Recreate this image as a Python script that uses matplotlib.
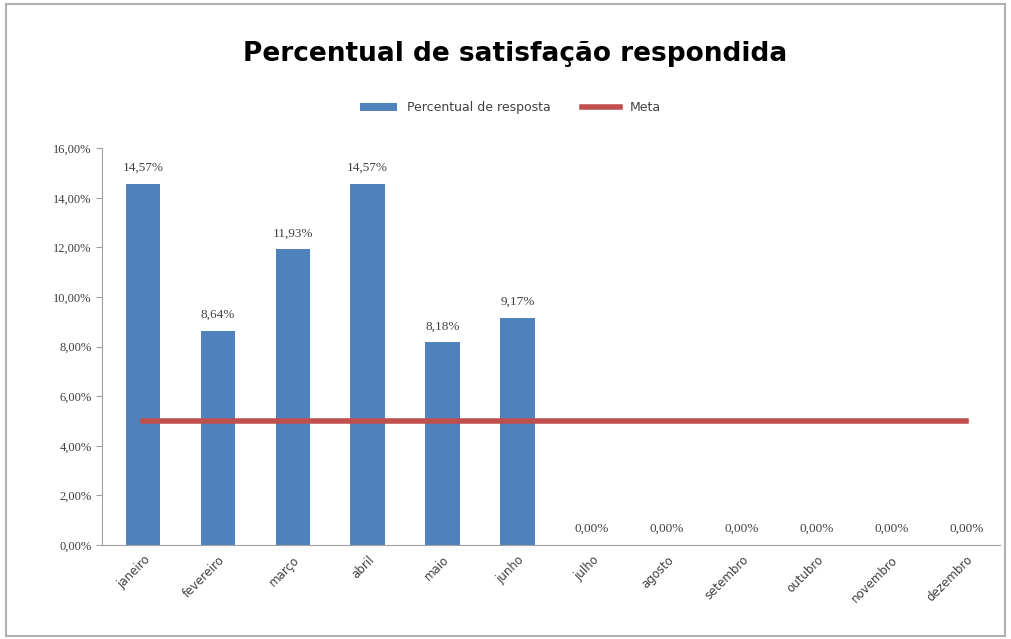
import numpy as np
import matplotlib.pyplot as plt
from matplotlib.patches import Rectangle

# data
meses = ['janeiro', 'fevereiro', 'março', 'abril', 'maio', 'junho',
         'julho', 'agosto', 'setembro', 'outubro', 'novembro', 'dezembro']
percentual = [14.57, 8.64, 11.93, 14.57, 8.18, 9.17, 0, 0, 0, 0, 0, 0]
meta = [5.0] * 12

def pct(v):
    return f'{v:.2f}%'.replace('.', ',')

fig = plt.figure(figsize=(10.11, 6.39), dpi=100)
ax = fig.add_axes([0.101, 0.147, 0.888, 0.621])

x = np.arange(len(meses))
bars = ax.bar(x, [v / 100 for v in percentual], width=0.46, color='#4F81BD',
              label='Percentual de resposta', zorder=2)
line, = ax.plot(x, [m / 100 for m in meta], color='#C0504D', lw=4,
                label='Meta', zorder=3)

for xi, v in zip(x, percentual):
    ax.text(xi, v / 100 + 0.004, pct(v), ha='center', va='bottom',
            fontsize=9.5, color='#404040', family='Liberation Serif')

ax.set_xlim(-0.55, 11.45)
ax.set_ylim(0, 0.16)
yt = np.arange(0, 0.161, 0.02)
ax.set_yticks(yt)
ax.set_yticklabels([pct(v * 100) for v in yt], fontsize=9, color='#404040',
                   family='Liberation Serif')
ax.set_xticks(x)
ax.set_xticklabels(meses, rotation=45, ha='right', rotation_mode='anchor',
                   fontsize=8.5, color='#404040')
ax.tick_params(axis='both', length=4, color='#a0a0a0')
ax.tick_params(axis='x', length=0, pad=6)

for s in ['top', 'right']:
    ax.spines[s].set_visible(False)
ax.spines['left'].set_color('#a0a0a0')
ax.spines['bottom'].set_color('#a0a0a0')

fig.text(0.51, 0.915, 'Percentual de satisfação respondida', ha='center',
         va='center', fontsize=19, fontweight='bold')
fig.legend([bars, line], ['Percentual de resposta', 'Meta'], loc='center',
           bbox_to_anchor=(0.505, 0.831), ncol=2, frameon=False,
           fontsize=9, handlelength=3, columnspacing=2.5,
           labelcolor='#404040')

fig.patches.append(Rectangle((0.006, 0.004), 0.988, 0.99, transform=fig.transFigure,
                             fill=False, edgecolor='#b0b0b0', lw=1.5))

fig.savefig('out.png', dpi=100)
